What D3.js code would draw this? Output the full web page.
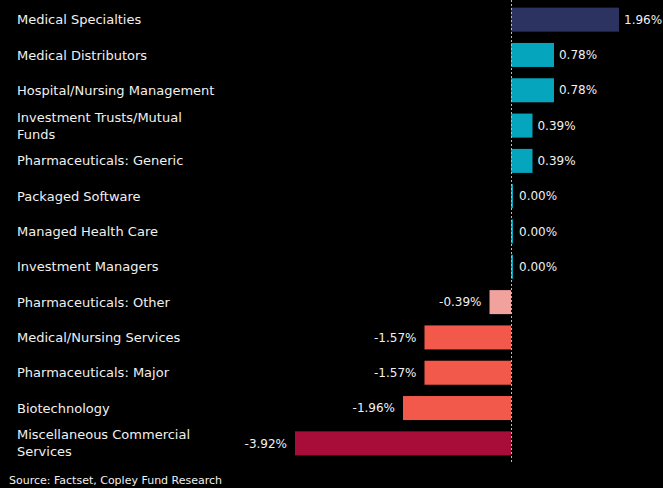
<!DOCTYPE html>
<html>
<head>
<meta charset="utf-8">
<script src="https://cdn.jsdelivr.net/npm/d3@7"></script>
<style>
  body { margin: 0; background: #000; }
  text { font-family: "DejaVu Sans", sans-serif; }
</style>
</head>
<body>
<svg width="663" height="488"></svg>
<script>
var categories = ['Medical Specialties', 'Medical Distributors', 'Hospital/Nursing Management',
  'Investment Trusts/Mutual Funds', 'Pharmaceuticals: Generic', 'Packaged Software',
  'Managed Health Care', 'Investment Managers', 'Pharmaceuticals: Other',
  'Medical/Nursing Services', 'Pharmaceuticals: Major', 'Biotechnology',
  'Miscellaneous Commercial Services'];
var values = [1.96, 0.78, 0.78, 0.39, 0.39, 0.00, 0.00, 0.00, -0.39, -1.57, -1.57, -1.96, -3.92];
var labelLines = [['Medical Specialties'], ['Medical Distributors'], ['Hospital/Nursing Management'],
  ['Investment Trusts/Mutual', 'Funds'], ['Pharmaceuticals: Generic'], ['Packaged Software'],
  ['Managed Health Care'], ['Investment Managers'], ['Pharmaceuticals: Other'],
  ['Medical/Nursing Services'], ['Pharmaceuticals: Major'], ['Biotechnology'],
  ['Miscellaneous Commercial', 'Services']];

var svg = d3.select('svg');

var xScale = d3.scaleLinear()
    .domain([-3.92, 1.96])
    .range([295, 619]);

var yScale = d3.scaleBand()
    .domain(categories)
    .range([2, 461])
    .paddingInner(0.32)
    .paddingOuter(0.16);

function barColor(v) {
  if (v >= 1.5) return '#2d3360';
  if (v >= 0) return '#05a6bd';
  if (v > -1) return '#f2a29c';
  if (v > -3) return '#f2594b';
  return '#a80d3a';
}

var rows = categories.map(function(c, i) {
  return {name: c, value: values[i], lines: labelLines[i]};
});

svg.selectAll('rect.bar')
    .data(rows)
    .enter()
    .append('rect')
    .attr('class', 'bar')
    .attr('x', function(d) { return d.value >= 0 ? xScale(0) : xScale(d.value); })
    .attr('y', function(d) { return yScale(d.name); })
    .attr('width', function(d) { return Math.max(2, Math.abs(xScale(d.value) - xScale(0))); })
    .attr('height', yScale.bandwidth())
    .attr('fill', function(d) { return barColor(d.value); });

// zero line
svg.append('line')
    .attr('x1', xScale(0) + 0.5)
    .attr('x2', xScale(0) + 0.5)
    .attr('y1', 0)
    .attr('y2', 462)
    .attr('stroke', '#bbbbbb')
    .attr('stroke-width', 1)
    .attr('stroke-dasharray', '2,2');

svg.selectAll('text.val')
    .data(rows)
    .enter()
    .append('text')
    .attr('class', 'val')
    .attr('x', function(d) {
      if (d.value > 0) return xScale(d.value) + 5;
      if (d.value === 0) return xScale(0) + 8;
      return xScale(d.value) - 8;
    })
    .attr('y', function(d) { return yScale(d.name) + yScale.bandwidth() / 2; })
    .attr('dy', '0.35em')
    .attr('text-anchor', function(d) { return d.value < 0 ? 'end' : 'start'; })
    .style('fill', '#f0f0f0')
    .style('font-size', '12px')
    .text(function(d) { return d.value.toFixed(2) + '%'; });

var lbl = svg.selectAll('text.cat')
    .data(rows)
    .enter()
    .append('text')
    .attr('class', 'cat')
    .attr('y', function(d) {
      return yScale(d.name) + yScale.bandwidth() / 2 - (d.lines.length - 1) * 8.5;
    })
    .style('fill', '#f0f0f0')
    .style('font-size', '13px');

lbl.selectAll('tspan')
    .data(function(d) { return d.lines; })
    .enter()
    .append('tspan')
    .attr('x', 17)
    .attr('dy', function(d, i) { return i === 0 ? '0.35em' : '17px'; })
    .text(function(d) { return d; });

svg.append('text')
    .attr('x', 9)
    .attr('y', 484)
    .style('fill', '#f0f0f0')
    .style('font-size', '11px')
    .text('Source:  Factset, Copley Fund Research');
</script>
</body>
</html>
